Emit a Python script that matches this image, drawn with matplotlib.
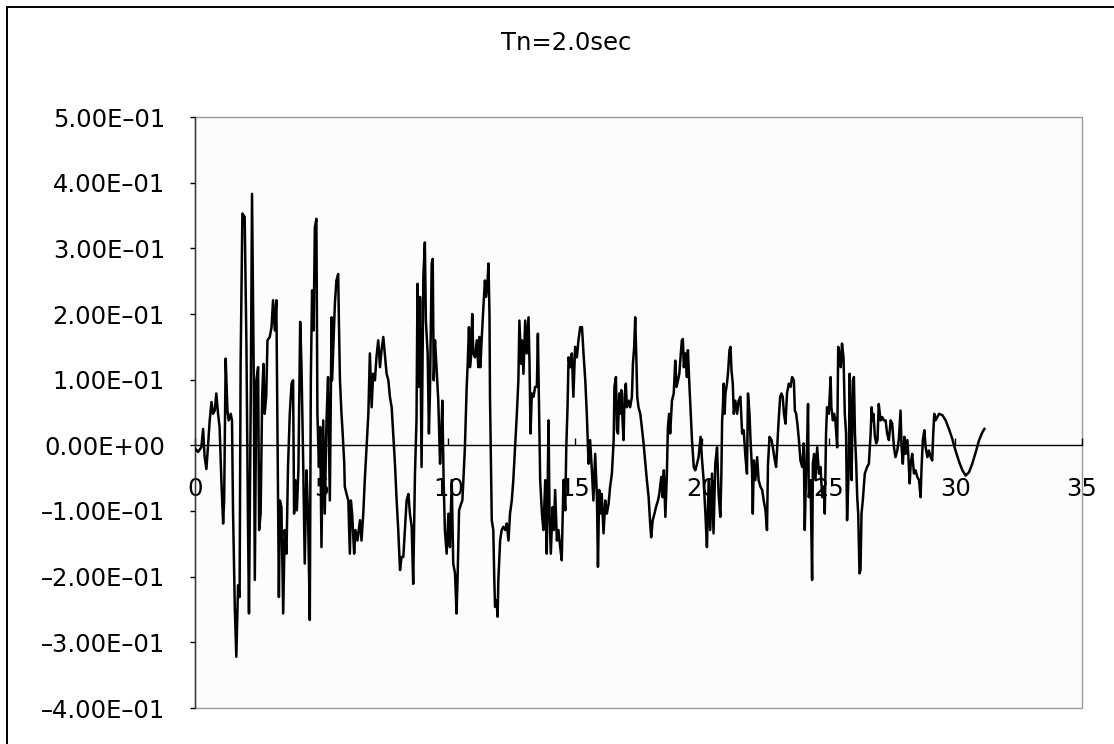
# Response time history, Tn = 2.0 sec

import matplotlib.pyplot as plt
from matplotlib.patches import Rectangle

title = 'Tn=2.0sec'

# time (sec)
time_s = [
    0.00, 0.12, 0.25, 0.32, 0.38, 0.45, 0.51, 0.58, 0.65, 0.71, 0.78, 0.84, 0.91, 0.97,
    1.04, 1.11, 1.15, 1.21, 1.28, 1.33, 1.41, 1.46, 1.50, 1.57, 1.63, 1.70, 1.76, 1.80,
    1.87, 1.96, 2.03, 2.09, 2.13, 2.20, 2.25, 2.32, 2.36, 2.42, 2.49, 2.53, 2.59, 2.65,
    2.70, 2.75, 2.81, 2.86, 2.95, 3.02, 3.08, 3.15, 3.21, 3.25, 3.31, 3.35, 3.41, 3.48,
    3.54, 3.61, 3.67, 3.74, 3.81, 3.87, 3.91, 3.96, 4.02, 4.08, 4.15, 4.20, 4.27, 4.33,
    4.40, 4.46, 4.53, 4.57, 4.62, 4.68, 4.73, 4.79, 4.83, 4.89, 4.94, 4.99, 5.06, 5.12,
    5.19, 5.25, 5.32, 5.39, 5.41, 5.45, 5.52, 5.58, 5.65, 5.68, 5.72, 5.78, 5.82, 5.89,
    5.91, 5.98, 6.05, 6.11, 6.15, 6.20, 6.28, 6.33, 6.41, 6.51, 6.57, 6.64, 6.70, 6.77,
    6.84, 6.90, 6.97, 7.03, 7.10, 7.16, 7.23, 7.30, 7.36, 7.43, 7.49, 7.56, 7.63, 7.69,
    7.76, 7.82, 7.89, 7.95, 8.02, 8.09, 8.15, 8.22, 8.28, 8.35, 8.42, 8.48, 8.55, 8.61,
    8.68, 8.74, 8.78, 8.84, 8.88, 8.94, 9.01, 9.07, 9.11, 9.18, 9.23, 9.27, 9.34, 9.38,
    9.42, 9.47, 9.53, 9.60, 9.67, 9.71, 9.76, 9.81, 9.86, 9.93, 10.00, 10.06, 10.13, 10.19,
    10.26, 10.32, 10.36, 10.42, 10.50, 10.55, 10.59, 10.65, 10.72, 10.76, 10.81, 10.85, 10.89, 10.94,
    10.98, 11.05, 11.12, 11.18, 11.22, 11.26, 11.31, 11.38, 11.44, 11.48, 11.53, 11.58, 11.62, 11.64,
    11.68, 11.71, 11.77, 11.81, 11.84, 11.90, 11.94, 11.97, 12.04, 12.10, 12.17, 12.24, 12.30, 12.37,
    12.43, 12.50, 12.56, 12.63, 12.70, 12.76, 12.80, 12.87, 12.90, 12.96, 13.03, 13.09, 13.16, 13.20,
    13.24, 13.29, 13.36, 13.42, 13.49, 13.53, 13.58, 13.62, 13.69, 13.75, 13.82, 13.88, 13.95, 13.99,
    14.04, 14.11, 14.16, 14.21, 14.28, 14.34, 14.41, 14.47, 14.54, 14.61, 14.65, 14.70, 14.74, 14.80,
    14.87, 14.93, 15.00, 15.07, 15.13, 15.20, 15.27, 15.33, 15.40, 15.46, 15.53, 15.59, 15.66, 15.72,
    15.79, 15.86, 15.90, 15.95, 15.99, 16.05, 16.12, 16.19, 16.25, 16.32, 16.38, 16.45, 16.52, 16.55,
    16.61, 16.65, 16.69, 16.74, 16.78, 16.82, 16.87, 16.91, 16.95, 17.00, 17.04, 17.11, 17.17, 17.24,
    17.28, 17.33, 17.37, 17.41, 17.45, 17.50, 17.57, 17.63, 17.70, 17.77, 17.83, 17.90, 17.96, 18.00,
    18.06, 18.13, 18.19, 18.27, 18.32, 18.40, 18.45, 18.50, 18.56, 18.62, 18.66, 18.71, 18.75, 18.82,
    18.89, 18.95, 19.00, 19.06, 19.11, 19.15, 19.21, 19.25, 19.29, 19.35, 19.41, 19.45, 19.50, 19.56,
    19.61, 19.68, 19.74, 19.81, 19.87, 19.95, 20.00, 20.07, 20.14, 20.20, 20.27, 20.33, 20.40, 20.46,
    20.53, 20.60, 20.66, 20.73, 20.77, 20.80, 20.83, 20.86, 20.90, 20.93, 20.99, 21.03, 21.09, 21.13,
    21.17, 21.22, 21.26, 21.32, 21.39, 21.45, 21.52, 21.59, 21.65, 21.72, 21.78, 21.82, 21.88, 21.92,
    21.98, 22.01, 22.05, 22.11, 22.18, 22.24, 22.31, 22.38, 22.44, 22.51, 22.57, 22.61, 22.67, 22.75,
    22.80, 22.88, 22.93, 22.98, 23.03, 23.09, 23.14, 23.19, 23.24, 23.30, 23.36, 23.43, 23.50, 23.56,
    23.63, 23.67, 23.72, 23.77, 23.83, 23.89, 23.96, 24.02, 24.06, 24.11, 24.15, 24.19, 24.22, 24.29,
    24.35, 24.38, 24.43, 24.48, 24.55, 24.62, 24.68, 24.75, 24.81, 24.85, 24.90, 24.94, 25.01, 25.08,
    25.11, 25.17, 25.22, 25.27, 25.34, 25.38, 25.43, 25.48, 25.53, 25.59, 25.64, 25.69, 25.73, 25.80,
    25.83, 25.87, 25.91, 25.96, 26.00, 26.04, 26.09, 26.13, 26.17, 26.22, 26.26, 26.30, 26.35, 26.43,
    26.52, 26.59, 26.66, 26.70, 26.72, 26.77, 26.83, 26.88, 26.93, 26.98, 27.05, 27.12, 27.18, 27.25,
    27.31, 27.38, 27.45, 27.51, 27.58, 27.64, 27.71, 27.77, 27.84, 27.88, 27.93, 27.99, 28.04, 28.11,
    28.15, 28.20, 28.24, 28.30, 28.37, 28.43, 28.50, 28.57, 28.63, 28.67, 28.72, 28.78, 28.83, 28.90,
    28.96, 29.03, 29.09, 29.13, 29.17, 29.22, 29.36, 29.49, 29.62, 29.75, 29.88, 30.01, 30.15, 30.28,
    30.41, 30.54, 30.67, 30.81, 30.94, 31.07, 31.15,
]

# response value
resp = [
    -0.005, -0.010, -0.003, 0.025, -0.018, -0.036, -0.003, 0.038, 0.066, 0.048, 0.053, 0.079, 0.048, 0.028,
    -0.053, -0.119, -0.084, 0.132, 0.053, 0.038, 0.048, 0.038, -0.099, -0.246, -0.322, -0.213, -0.231, 0.124,
    0.353, 0.348, 0.150, -0.114, -0.256, 0.074, 0.383, 0.099, -0.205, 0.099, 0.119, -0.129, -0.104, 0.074,
    0.124, 0.048, 0.074, 0.160, 0.165, 0.180, 0.221, 0.175, 0.221, 0.038, -0.231, -0.084, -0.094, -0.256,
    -0.129, -0.165, -0.033, 0.048, 0.094, 0.099, -0.104, -0.053, -0.099, -0.038, 0.188, 0.124, -0.028, -0.180,
    -0.038, -0.104, -0.266, 0.099, 0.236, 0.175, 0.332, 0.345, 0.048, -0.033, 0.028, -0.155, 0.038, -0.104,
    0.038, 0.104, -0.084, 0.195, 0.099, 0.140, 0.216, 0.251, 0.261, 0.185, 0.099, 0.048, 0.023, -0.028,
    -0.063, -0.074, -0.084, -0.165, -0.084, -0.104, -0.165, -0.129, -0.145, -0.114, -0.145, -0.104, -0.053, -0.003,
    0.048, 0.140, 0.058, 0.109, 0.099, 0.134, 0.160, 0.119, 0.145, 0.165, 0.140, 0.109, 0.099, 0.074,
    0.058, 0.018, -0.028, -0.079, -0.129, -0.190, -0.170, -0.170, -0.129, -0.084, -0.074, -0.104, -0.124, -0.211,
    -0.043, 0.038, 0.246, 0.089, 0.226, -0.033, 0.256, 0.309, 0.190, 0.140, 0.018, 0.079, 0.277, 0.284,
    0.099, 0.160, 0.119, 0.068, -0.028, 0.008, 0.068, -0.053, -0.129, -0.165, -0.104, -0.155, -0.053, -0.180,
    -0.195, -0.256, -0.205, -0.099, -0.089, -0.084, -0.053, -0.003, 0.089, 0.124, 0.180, 0.119, 0.134, 0.200,
    0.140, 0.134, 0.160, 0.119, 0.165, 0.119, 0.160, 0.211, 0.251, 0.226, 0.241, 0.277, 0.200, 0.074,
    -0.028, -0.114, -0.129, -0.205, -0.246, -0.236, -0.261, -0.205, -0.145, -0.129, -0.124, -0.129, -0.119, -0.145,
    -0.104, -0.084, -0.053, -0.003, 0.048, 0.099, 0.190, 0.124, 0.160, 0.109, 0.190, 0.140, 0.195, 0.124,
    0.018, 0.079, 0.074, 0.089, 0.089, 0.170, 0.048, -0.053, -0.104, -0.129, -0.053, -0.165, 0.038, -0.104,
    -0.165, -0.094, -0.129, -0.068, -0.145, -0.129, -0.155, -0.175, -0.053, -0.099, -0.003, 0.058, 0.134, 0.119,
    0.140, 0.074, 0.150, 0.134, 0.160, 0.180, 0.180, 0.140, 0.099, 0.048, -0.028, 0.008, -0.038, -0.084,
    -0.013, -0.079, -0.185, -0.068, -0.104, -0.074, -0.134, -0.084, -0.104, -0.089, -0.063, -0.043, 0.008, 0.089,
    0.104, 0.023, 0.018, 0.079, 0.048, 0.084, 0.038, 0.008, 0.074, 0.094, 0.058, 0.068, 0.058, 0.074,
    0.124, 0.150, 0.195, 0.140, 0.074, 0.058, 0.048, 0.028, 0.003, -0.028, -0.053, -0.079, -0.119, -0.140,
    -0.114, -0.104, -0.094, -0.084, -0.074, -0.048, -0.079, -0.038, -0.109, -0.043, 0.028, 0.048, 0.018, 0.068,
    0.079, 0.129, 0.089, 0.099, 0.109, 0.129, 0.160, 0.162, 0.119, 0.140, 0.104, 0.145, 0.099, 0.048,
    0.008, -0.033, -0.038, -0.028, -0.018, 0.013, -0.018, -0.053, -0.104, -0.155, -0.053, -0.129, -0.043, -0.134,
    -0.028, -0.003, -0.074, -0.109, -0.043, 0.038, 0.058, 0.094, 0.048, 0.079, 0.094, 0.109, 0.145, 0.150,
    0.114, 0.094, 0.048, 0.068, 0.048, 0.068, 0.074, 0.018, 0.023, -0.018, -0.043, 0.079, 0.048, 0.008,
    -0.038, -0.104, -0.023, -0.053, -0.018, -0.053, -0.063, -0.068, -0.084, -0.099, -0.129, -0.028, 0.013, 0.008,
    -0.003, -0.023, -0.033, 0.003, 0.038, 0.074, 0.079, 0.074, 0.048, 0.033, 0.079, 0.094, 0.089, 0.104,
    0.099, 0.053, 0.048, 0.033, 0.008, -0.023, -0.033, 0.003, -0.129, -0.043, -0.003, 0.063, -0.079, -0.053,
    -0.205, -0.028, -0.013, -0.053, -0.003, -0.043, -0.033, -0.079, -0.063, -0.104, 0.018, 0.058, 0.048, 0.104,
    0.058, 0.038, 0.048, 0.038, -0.003, 0.150, 0.140, 0.119, 0.155, 0.134, 0.048, 0.018, -0.114, -0.028,
    0.109, 0.033, -0.053, 0.099, 0.104, 0.018, -0.028, -0.079, -0.104, -0.195, -0.190, -0.104, -0.084, -0.043,
    -0.033, -0.028, 0.018, 0.058, 0.038, 0.048, 0.013, 0.003, 0.008, 0.063, 0.038, 0.043, 0.038, 0.038,
    0.018, 0.008, 0.038, 0.033, -0.003, -0.018, -0.008, 0.008, 0.053, -0.003, -0.028, 0.013, -0.013, 0.008,
    -0.018, -0.058, -0.028, -0.013, -0.043, -0.038, -0.048, -0.053, -0.079, -0.033, 0.008, 0.023, -0.003, -0.018,
    -0.008, -0.018, -0.023, 0.018, 0.048, 0.038, 0.048, 0.046, 0.038, 0.025, 0.010, -0.008, -0.025, -0.038,
    -0.046, -0.041, -0.028, -0.010, 0.008, 0.020, 0.025,
]

xticks = [0, 5, 10, 15, 20, 25, 30, 35]
yticks = [-0.4, -0.3, -0.2, -0.1, 0.0, 0.1, 0.2, 0.3, 0.4, 0.5]
ylabels = ['\u20134.00E\u201301', '\u20133.00E\u201301', '\u20132.00E\u201301', '\u20131.00E\u201301',
           '0.00E+00', '1.00E\u201301', '2.00E\u201301', '3.00E\u201301', '4.00E\u201301', '5.00E\u201301']

W, H = 1114, 744
fig = plt.figure(figsize=(W / 100, H / 100), dpi=100)
fig.patch.set_facecolor('white')

# outer chart frame (right and bottom edges fall outside the scan)
fig.add_artist(Rectangle((7 / W, -10 / H), 1120 / W, 747 / H, transform=fig.transFigure,
                         fill=False, edgecolor='black', linewidth=1.4))

fig.text(566 / W, 1 - 43 / H, title, ha='center', va='center', fontsize=17.5)

ax = fig.add_axes([195 / W, 36 / H, 887 / W, 591 / H])
ax.set_facecolor('#fcfcfc')

ax.plot(time_s, resp, color='black', linewidth=1.8, zorder=3)

ax.set_xlim(0, 35)
ax.set_ylim(-0.4, 0.5)
ax.set_xticks(xticks)
ax.set_xticklabels([str(x) for x in xticks])
ax.set_yticks(yticks)
ax.set_yticklabels(ylabels)

# plot area border
ax.add_patch(Rectangle((0, 0), 1, 1, transform=ax.transAxes, fill=False,
                       edgecolor='#9a9a9a', linewidth=1.0, zorder=1, clip_on=False))

for s in ['top', 'right']:
    ax.spines[s].set_visible(False)
ax.spines['left'].set_color('#333333')
ax.spines['left'].set_linewidth(1.0)
ax.spines['bottom'].set_position(('data', 0))
ax.spines['bottom'].set_color('black')
ax.spines['bottom'].set_linewidth(1.0)
ax.spines['bottom'].set_zorder(2)

ax.tick_params(axis='x', direction='in', length=5, width=1, pad=23, labelsize=17.5)
ax.tick_params(axis='y', direction='out', length=3.6, width=1, pad=18, labelsize=17.5)

fig.savefig('out.png', dpi=100)
